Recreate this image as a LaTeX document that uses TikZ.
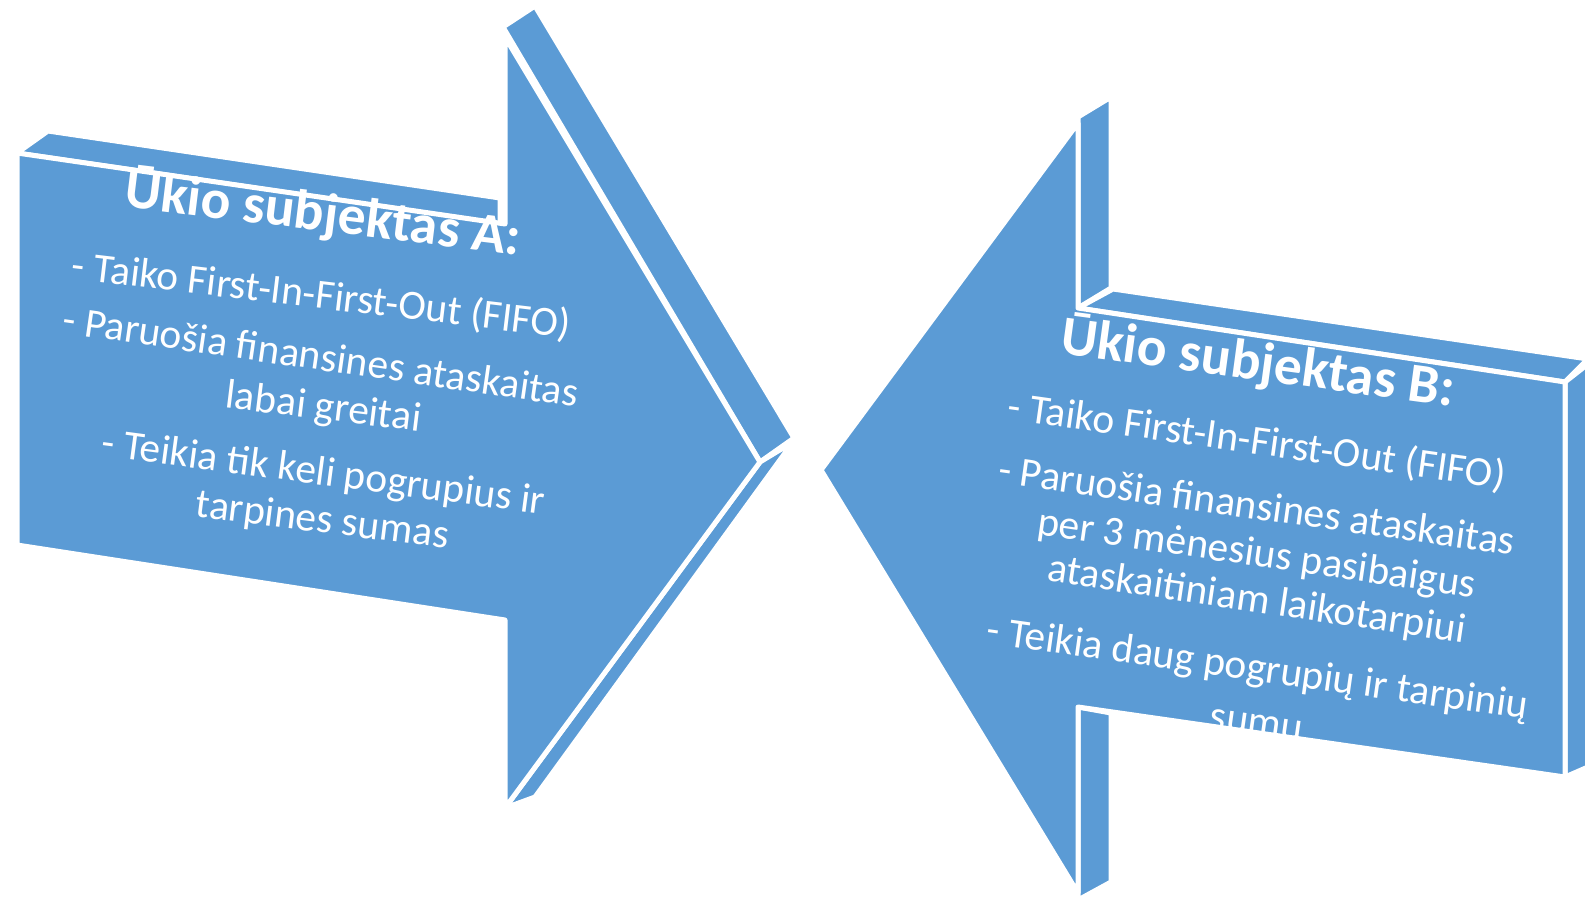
\documentclass[tikz,border=0pt]{standalone}
\usepackage{fontspec}
\setmainfont{Carlito}
\definecolor{arrowblue}{RGB}{91,155,213}
\begin{document}
\begin{tikzpicture}[x=1pt,y=-1pt,
  face/.style={fill=arrowblue, draw=white, line width=5pt, line join=round},
  bodytxt/.style={text=white, inner sep=0pt, anchor=base, font=\fontsize{41.5}{48}\selectfont},
  headtxt/.style={text=white, inner sep=0pt, anchor=base, font=\bfseries\fontsize{55.5}{64}\selectfont}]
\useasboundingbox (0,0) rectangle (1585,900);

% ---------- Arrow A (pointing right) ----------
\path[face] (17,153) -- (48,131) -- (500,198) -- (500,224) -- cycle;
\path[face] (503,27) -- (535,6) -- (794,438) -- (760,462) -- cycle;
\path[face] (760,462) -- (793,442) -- (535,797) -- (505,808) -- cycle;
\path[face] (17,153) -- (505,224) -- (505,37) -- (760,462) -- (505,808) -- (505,620) -- (17,545) -- cycle;

\node[headtxt, rotate=-7]   (atitle) at (321,231)   {Ūkio subjektas A:};
\node[bodytxt, rotate=-6.8] (a1)     at (320,308.5) {- Taiko First-In-First-Out (FIFO)};
\node[bodytxt, rotate=-8.2] (a2)     at (319,370)   {- Paruošia finansines ataskaitas};
\node[bodytxt, rotate=-7]   (a3)     at (322,419.5) {labai greitai};
\node[bodytxt, rotate=-7.6] (a4)     at (322,485)   {- Teikia tik keli pogrupius ir};
\node[bodytxt, rotate=-7.2] (a5)     at (321,532.5) {tarpines sumas};

% ---------- Arrow B (pointing left) ----------
\path[face] (1078,117) -- (1111,97) -- (1111,288) -- (1078,308) -- cycle;
\path[face] (1078,707) -- (1111,713) -- (1111,882) -- (1078,900) -- cycle;
\path[face] (1078,308) -- (1113,289) -- (1588,359) -- (1565,382) -- cycle;
\path[face] (1565,382) -- (1588,364) -- (1588,767) -- (1565,777) -- cycle;
\path[face] (1078,123) -- (821,470) -- (1078,893) -- (1078,707) -- (1565,777) -- (1565,382) -- (1078,308) -- cycle;

\begin{scope}
\clip (1078,123) -- (821,470) -- (1078,893) -- (1078,707) -- (1565,777) -- (1565,382) -- (1078,308) -- cycle;
\node[headtxt, rotate=-7.7] (btitle) at (1256,380) {Ūkio subjektas B:};
\node[bodytxt, rotate=-8]   (b1)     at (1255,454) {- Taiko First-In-First-Out (FIFO)};
\node[bodytxt, rotate=-8]   (b2)     at (1255,519) {- Paruošia finansines ataskaitas};
\node[bodytxt, rotate=-8.2] (b3)     at (1255,566) {per 3 mėnesius pasibaigus};
\node[bodytxt, rotate=-8.5] (b4)     at (1255,612) {ataskaitiniam laikotarpiui};
\node[bodytxt, rotate=-8]   (b5)     at (1256,681) {- Teikia daug pogrupių ir tarpinių};
\node[bodytxt, rotate=-8]   (b6)     at (1255,735) {sumų};
\end{scope}
\end{tikzpicture}
\end{document}
